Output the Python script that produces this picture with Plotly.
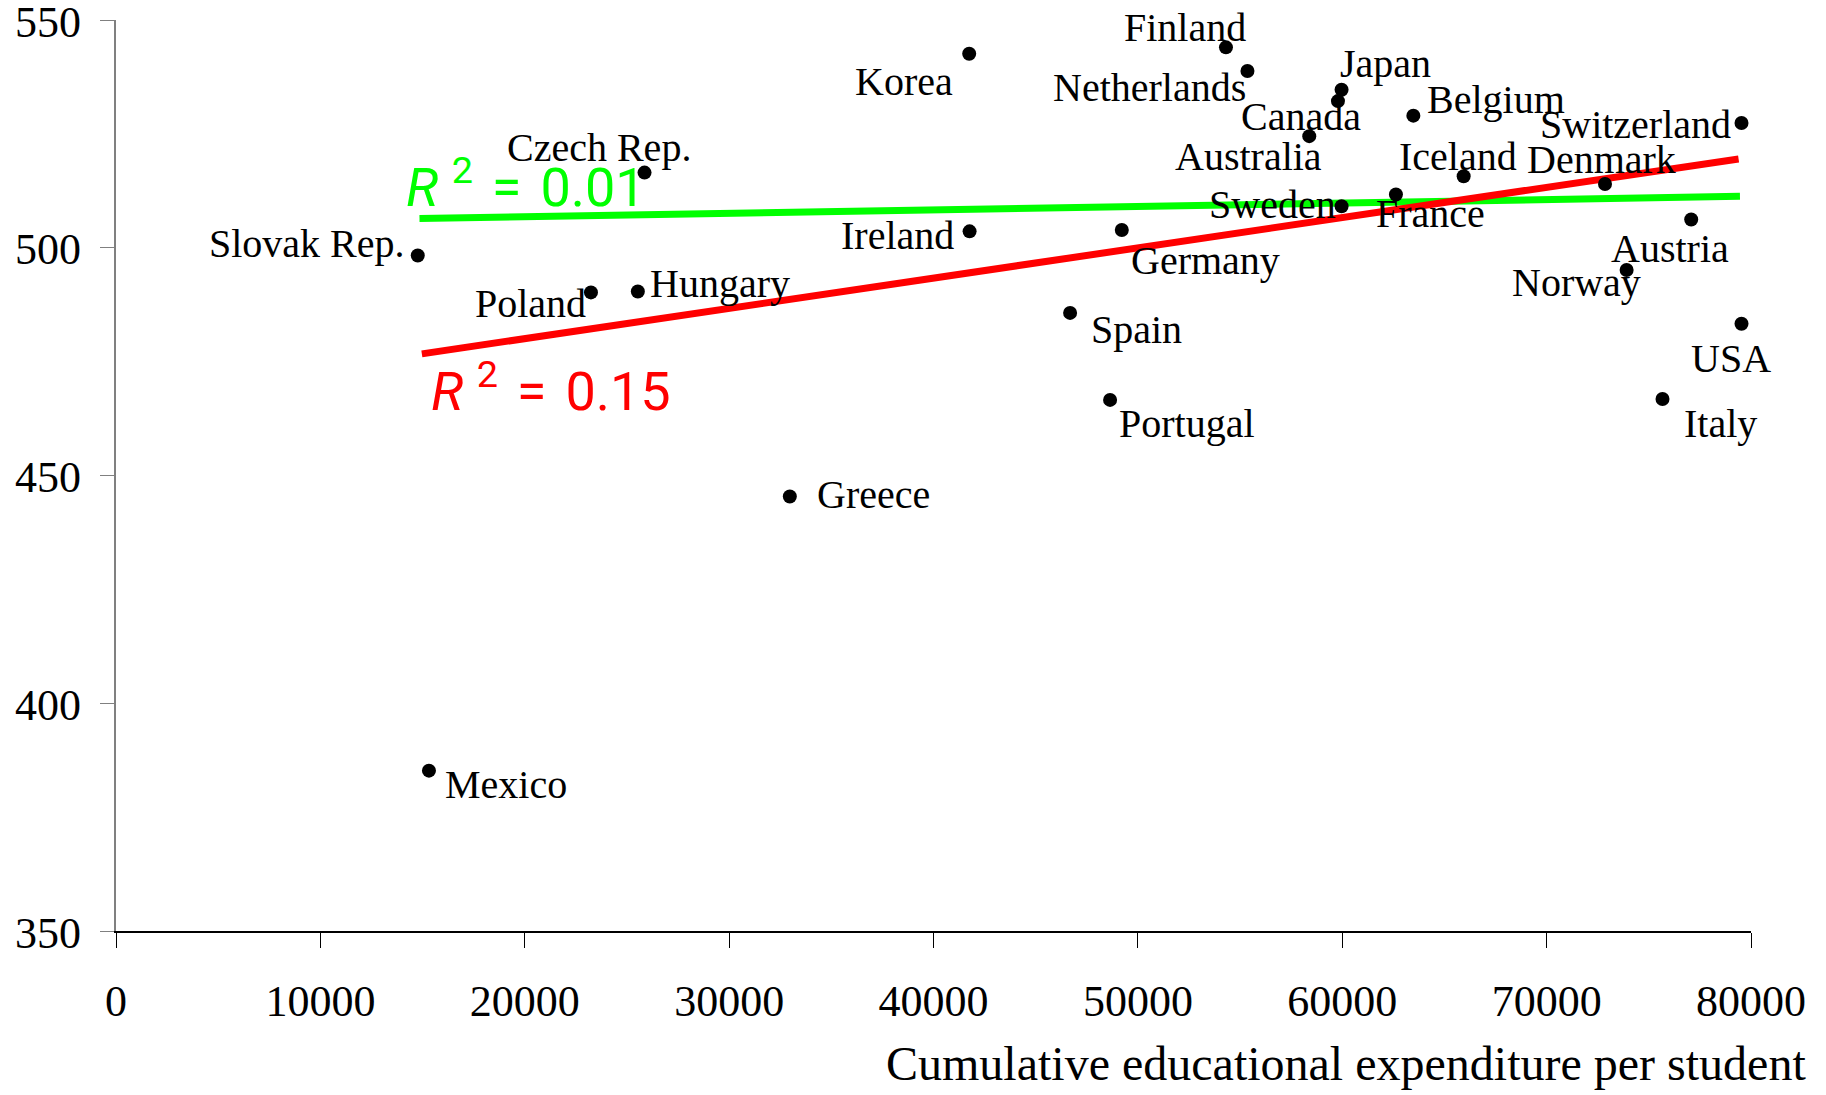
import plotly.graph_objects as go

# ---- data ----
countries = ["Slovak Rep.", "Mexico", "Czech Rep.", "Poland", "Hungary", "Greece",
             "Korea", "Ireland", "Spain", "Portugal", "Germany", "Finland",
             "Netherlands", "Canada", "Japan", "Australia", "Belgium", "Switzerland",
             "Iceland", "Denmark", "Sweden", "France", "Austria", "Norway", "USA", "Italy"]
expenditure = [14765, 15313, 25861, 23239, 25533, 32970,
               41746, 41766, 46684, 48640, 49213, 54310,
               55362, 59790, 59966, 58386, 63479, 79535,
               65940, 72857, 59966, 62627, 77074, 73914, 79535, 75670]
score = [498.3, 385.2, 516.5, 490.2, 490.4, 445.4,
         542.6, 503.6, 485.7, 466.6, 503.9, 544.0,
         538.8, 532.2, 534.7, 524.5, 529.0, 527.4,
         515.7, 514.0, 509.1, 511.7, 506.2, 495.1, 483.3, 466.8]

green_trend_x = [14850, 79460]
green_trend_y = [506.4, 511.3]
red_trend_x = [14965, 79393]
red_trend_y = [476.7, 519.5]
green_r2 = "0.01"
red_r2 = "0.15"

x_ticks = [0, 10000, 20000, 30000, 40000, 50000, 60000, 70000, 80000]
y_ticks = [350, 400, 450, 500, 550]
x_title = "Cumulative educational expenditure per student"

# ---- label placement (pixels: anchor, dx from dot, baseline dy from dot) ----
label_pos = {
    "Slovak Rep.": ("right", -13, 2),
    "Mexico": ("left", 16, 27),
    "Czech Rep.": ("center", -46, -12),
    "Poland": ("right", -5, 25),
    "Hungary": ("left", 12, 6),
    "Greece": ("left", 27, 12),
    "Korea": ("right", -16, 41),
    "Ireland": ("right", -16, 18),
    "Spain": ("left", 21, 30),
    "Portugal": ("left", 9, 37),
    "Germany": ("left", 9, 44),
    "Finland": ("right", 20, -6),
    "Netherlands": ("right", -1, 30),
    "Canada": ("center", -37, 29),
    "Japan": ("left", -2, -13),
    "Australia": ("center", -61, 34),
    "Belgium": ("left", 14, -3),
    "Switzerland": ("right", -11, 15),
    "Iceland": ("center", -6, -6),
    "Denmark": ("center", -4, -11),
    "Sweden": ("right", -6, 12),
    "France": ("center", 35, 33),
    "Austria": ("center", -21, 42),
    "Norway": ("center", -50, 26),
    "USA": ("center", -11, 48),
    "Italy": ("left", 21, 38),
}

SERIF = "Liberation Serif, Times New Roman, serif"
SANS = "Roboto, Liberation Sans, Arial, sans-serif"
LAB_FS = 40
TICK_FS = 44
TITLE_FS = 48
R2_FS = 54

fig = go.Figure()

fig.add_trace(go.Scatter(x=green_trend_x, y=green_trend_y, mode="lines",
                         line=dict(color="#00FF00", width=7), hoverinfo="skip",
                         showlegend=False))
fig.add_trace(go.Scatter(x=red_trend_x, y=red_trend_y, mode="lines",
                         line=dict(color="#FF0000", width=7), hoverinfo="skip",
                         showlegend=False))
fig.add_trace(go.Scatter(x=expenditure, y=score, mode="markers",
                         marker=dict(color="black", size=14),
                         text=countries, showlegend=False, cliponaxis=False))

annotations = []
for c, xv, yv in zip(countries, expenditure, score):
    anchor, dx, dy = label_pos[c]
    pad = 2 if anchor == "left" else (-2 if anchor == "right" else 0)
    annotations.append(dict(
        x=xv, y=yv, xref="x", yref="y", text=c, showarrow=False,
        xanchor=anchor, yanchor="middle",
        xshift=dx - pad, yshift=0.3375 * LAB_FS - dy,
        font=dict(family=SERIF, size=LAB_FS, color="black")))

# y-axis tick labels (as text placed at the tick values)
for v in y_ticks:
    annotations.append(dict(
        x=0, y=v, xref="paper", yref="y", text=str(v), showarrow=False,
        xanchor="right", yanchor="middle", xshift=-33, yshift=-2,
        font=dict(family=SERIF, size=TICK_FS, color="black")))

r2_fmt = "<i>R</i> <sup>2</sup> \u200a= \u200a{}"
annotations.append(dict(
    x=green_trend_x[0], y=green_trend_y[0], xref="x", yref="y",
    text=r2_fmt.format(green_r2), showarrow=False,
    xanchor="left", yanchor="middle", xshift=-16, yshift=0.3465 * R2_FS + 16,
    font=dict(family=SANS, size=R2_FS, color="#00FF00")))
annotations.append(dict(
    x=red_trend_x[0], y=red_trend_y[0], xref="x", yref="y",
    text=r2_fmt.format(red_r2), showarrow=False,
    xanchor="left", yanchor="middle", xshift=7, yshift=0.3465 * R2_FS - 52,
    font=dict(family=SANS, size=R2_FS, color="#FF0000")))

L, R, T, B = 116, 75, 20, 164
W, H = 1826, 1095
pw, ph = W - L - R, H - T - B
annotations.append(dict(
    x=(1808 - L) / pw, y=(H - B - (1080 - 0.3375 * TITLE_FS)) / ph,
    xref="paper", yref="paper", text=x_title, showarrow=False,
    xanchor="right", yanchor="middle",
    font=dict(family=SERIF, size=TITLE_FS, color="black")))

fig.update_layout(
    width=W, height=H,
    margin=dict(l=L, r=R, t=T, b=B, pad=0, autoexpand=False),
    paper_bgcolor="white", plot_bgcolor="white",
    annotations=annotations,
    showlegend=False,
    xaxis=dict(range=[0, 80000], tickvals=x_ticks, ticktext=[str(v) for v in x_ticks],
               showgrid=False, zeroline=False, showline=True, linecolor="black",
               linewidth=1.5, ticks="outside", ticklen=15, tickcolor="black",
               tickwidth=1.2, ticklabelstandoff=15, ticklabeloverflow="allow",
               automargin=False,
               tickfont=dict(family=SERIF, size=TICK_FS, color="black"), fixedrange=True),
    yaxis=dict(range=[350, 550], tickvals=y_ticks, showticklabels=False,
               showgrid=False, zeroline=False, showline=True, linecolor="#808080",
               linewidth=1.5, ticks="outside", ticklen=14, tickcolor="#808080",
               tickwidth=1.2, automargin=False, fixedrange=True),
)

fig.write_html("out.html", config={"displayModeBar": False},
               post_script="document.body.style.margin='0';document.body.style.padding='0';")
